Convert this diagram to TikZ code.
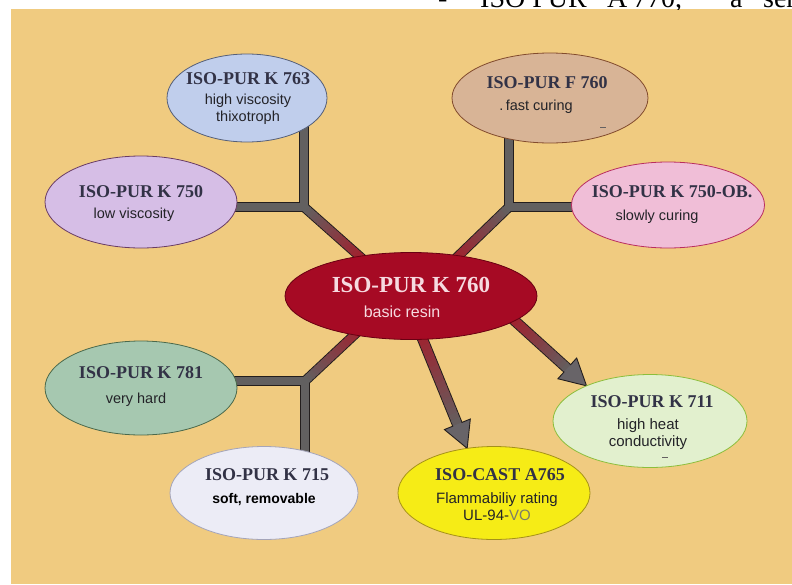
\documentclass[tikz,border=0pt]{standalone}
\usepackage{fontspec}
\setmainfont{Liberation Serif}
\newfontfamily\notefont{Liberation Sans}
\usetikzlibrary{shapes.geometric,calc,backgrounds}

\definecolor{paper}{RGB}{240,203,128}
\definecolor{barGray}{RGB}{98,96,96}
\definecolor{barRed}{RGB}{168,26,40}
\definecolor{rimInk}{RGB}{35,30,30}
\definecolor{headGray}{RGB}{104,100,104}
\definecolor{titleInk}{RGB}{50,50,70}
\definecolor{noteInk}{RGB}{35,35,40}
\definecolor{voGray}{RGB}{125,125,105}
% ellipse fills and rims
\definecolor{blueFill}{RGB}{192,206,236}  \definecolor{blueLine}{RGB}{85,95,120}
\definecolor{tanFill}{RGB}{216,180,150}   \definecolor{tanLine}{RGB}{130,75,45}
\definecolor{lilacFill}{RGB}{214,190,230} \definecolor{lilacLine}{RGB}{105,60,100}
\definecolor{pinkFill}{RGB}{240,190,215}  \definecolor{pinkLine}{RGB}{185,45,95}
\definecolor{coreFill}{RGB}{166,10,36}    \definecolor{coreLine}{RGB}{105,0,18}
\definecolor{coreInk}{RGB}{246,218,224}
\definecolor{sageFill}{RGB}{166,200,176}  \definecolor{sageLine}{RGB}{75,105,75}
\definecolor{paleFill}{RGB}{236,236,246}  \definecolor{paleLine}{RGB}{165,165,185}
\definecolor{mintFill}{RGB}{226,240,206}  \definecolor{mintLine}{RGB}{140,190,60}
\definecolor{lemonFill}{RGB}{246,236,22}  \definecolor{lemonLine}{RGB}{165,145,25}

\tikzset{
  resin/.style={ellipse,draw,line width=0.8pt,inner sep=0pt,outer sep=0pt},
  grade/.style={font=\bfseries\fontsize{18}{20}\selectfont,text=titleInk,inner sep=0pt},
  props/.style={font=\notefont\fontsize{14.5}{17.5}\selectfont,text=noteInk,align=center,inner sep=0pt},
  barRim/.style={line width=10pt,draw=rimInk,line join=miter},
  barBody/.style={line width=8pt,draw=barGray,line join=miter},
}

\begin{document}
\begin{tikzpicture}[x=1pt,y=-1pt]
\useasboundingbox (0,0) rectangle (792,584);

% ===== cut-off line of the page above =====
\begin{scope}
  \clip (0,0) rectangle (792,9);
  \node[anchor=base west,inner sep=0pt,font=\fontsize{28}{30}\selectfont] (pageLine) at (438,7)
    {\makebox[42pt][l]{-}\makebox[127pt][l]{ISO PUR}\makebox[26pt][l]{A}\makebox[97pt][l]{770,}\makebox[33pt][l]{a}ser};
\end{scope}

% ===== Base resin =====
\node[resin,fill=coreFill,draw=coreLine,minimum width=252pt,minimum height=87pt] (core) at (411,296) {};
\node[grade,text=coreInk,font=\bfseries\fontsize{23}{25}\selectfont] (coreT) at (411,285) {ISO-PUR K 760};
\node[props,text=coreInk,font=\notefont\fontsize{16}{18}\selectfont] (coreN) at (402,312) {basic resin};

% ===== Upper branches =====
\node[resin,fill=blueFill,draw=blueLine,minimum width=160pt,minimum height=88pt] (k763) at (247,98) {};
\node[grade] (k763T) at (248,79) {ISO-PUR K 763};
\node[props] (k763N) at (248,109) {high viscosity\\thixotroph};

\node[resin,fill=lilacFill,draw=lilacLine,minimum width=192pt,minimum height=92pt] (k750) at (141,202) {};
\node[grade] (k750T) at (141,192) {ISO-PUR K 750};
\node[props] (k750N) at (134,215) {low viscosity};

\node[resin,fill=tanFill,draw=tanLine,minimum width=196pt,minimum height=90pt] (f760) at (550,98) {};
\node[grade] (f760T) at (547,83) {ISO-PUR F 760};
\node[props] (f760N) at (536,107) {.\,fast curing};
\draw[rimInk!70,line width=0.6pt] (600,127) -- (606,127);

\node[resin,fill=pinkFill,draw=pinkLine,minimum width=193pt,minimum height=86pt] (k750ob) at (668,205) {};
\node[grade] (k750obT) at (672,192) {ISO-PUR K 750-OB.};
\node[props] (k750obN) at (657,217) {slowly curing};

% ===== Lower branches =====
\node[resin,fill=sageFill,draw=sageLine,minimum width=192pt,minimum height=94pt] (k781) at (141,388) {};
\node[grade] (k781T) at (141,373) {ISO-PUR K 781};
\node[props] (k781N) at (136,400) {very hard};

\node[resin,fill=paleFill,draw=paleLine,minimum width=188pt,minimum height=93pt] (k715) at (264,493) {};
\node[grade] (k715T) at (267,475) {ISO-PUR K 715};
\node[props,text=black,font=\notefont\bfseries\fontsize{14}{17}\selectfont] (k715N) at (264,500) {soft, removable};

\node[resin,fill=lemonFill,draw=lemonLine,minimum width=192pt,minimum height=93pt] (a765) at (494,493) {};
\node[grade] (a765T) at (500,475) {ISO-CAST A765};
\node[props,font=\notefont\fontsize{15}{17}\selectfont] (a765N) at (497,507) {Flammabiliy rating\\UL-94-\textcolor{voGray}{VO}};

\node[resin,fill=mintFill,draw=mintLine,minimum width=194pt,minimum height=93pt] (k711) at (650,421) {};
\node[grade] (k711T) at (652,402) {ISO-PUR K 711};
\node[props,font=\notefont\fontsize{15}{17}\selectfont] (k711N) at (648,434) {high heat\\conductivity};
\draw[rimInk!70,line width=0.6pt] (662,457) -- (668,457);

% ===== Branch bars and arrows =====
\coordinate (j1) at (304,207);
\coordinate (j2) at (509,207);
\coordinate (j3) at (305,381);
\coordinate (e1) at (366,262);
\coordinate (e2) at (452,262);
\coordinate (e3) at (366,324);
\coordinate (s1) at (414,318);
\coordinate (s2) at (505,312);
\coordinate (h1) at ($(a765.121)!26pt!(s1)$);
\coordinate (h2) at ($(k711.151)!26pt!(s2)$);

\begin{scope}[on background layer]
  \fill[paper] (11,9) rectangle (792,584);
  % rims first
  \draw[barRim] (j1 |- k763) -- (j1) -- (j1 -| k750);
  \draw[barRim] (j2 |- f760) -- (j2) -- (j2 -| k750ob);
  \draw[barRim] (j3 -| k781) -- (j3) -- (j3 |- k715);
  \foreach \j/\e in {j1/e1,j2/e2,j3/e3} {\draw[barRim] (\j) -- (\e);}
  % grey bodies, red towards the base resin
  \draw[barBody] (j1 |- k763) -- (j1) -- (j1 -| k750);
  \draw[barBody] (j2 |- f760) -- (j2) -- (j2 -| k750ob);
  \draw[barBody] (j3 -| k781) -- (j3) -- (j3 |- k715);
  \foreach \j/\e in {j1/e1,j2/e2,j3/e3} {
    \foreach \k in {0,...,19} {
      \pgfmathsetmacro\ta{\k/20}
      \pgfmathsetmacro\tb{(\k+1.4)/20}
      \pgfmathtruncatemacro\p{5*\k}
      \draw[line width=8pt,draw=barRed!\p!barGray] ($(\j)!\ta!(\e)$) -- ($(\j)!\tb!(\e)$);
    }
  }
  % arrows to the derived grades
  \foreach \s/\h/\t in {s1/h1/a765.121,s2/h2/k711.151} {
    \draw[barRim,line width=11pt] (\s) -- (\h);
    \foreach \k in {0,...,19} {
      \pgfmathsetmacro\ta{\k/20}
      \pgfmathsetmacro\tb{(\k+1.4)/20}
      \pgfmathtruncatemacro\p{100-5*\k}
      \draw[line width=9pt,draw=barRed!\p!barGray] ($(\s)!\ta!(\h)$) -- ($(\s)!\tb!(\h)$);
    }
    \fill[headGray] ($(\h)!14pt!90:(\t)$) -- (\t) -- ($(\h)!14pt!-90:(\t)$) -- cycle;
    \draw[rimInk,line width=0.9pt,line join=miter]
      ($(\h)!4.5pt!90:(\t)$) -- ($(\h)!14pt!90:(\t)$) -- (\t) -- ($(\h)!14pt!-90:(\t)$) -- ($(\h)!4.5pt!-90:(\t)$);
  }
\end{scope}

\end{tikzpicture}
\end{document}
